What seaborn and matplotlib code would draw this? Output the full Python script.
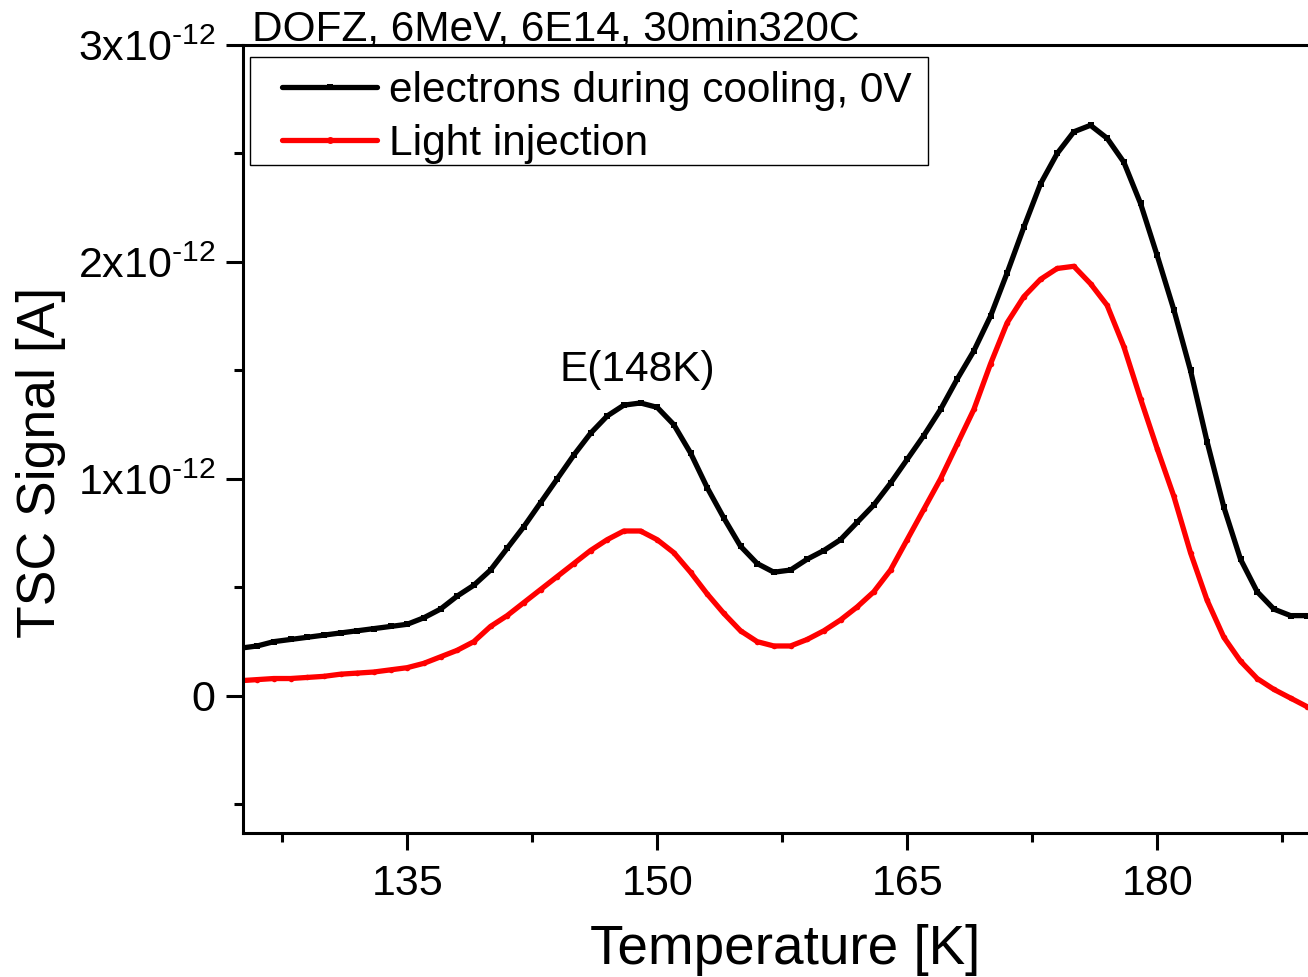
import numpy as np
import pandas as pd
import matplotlib
matplotlib.use("Agg")
import matplotlib.pyplot as plt
import matplotlib.patches as mpatches
import seaborn as sns

# ---- data ----
temperature = list(range(125, 190))
electrons_cooling = [
    0.22, 0.23, 0.25, 0.26, 0.27, 0.28, 0.29, 0.30, 0.31, 0.32,   # 125-134
    0.33, 0.36, 0.40, 0.46, 0.51, 0.58, 0.68, 0.78, 0.89, 1.00,   # 135-144
    1.11, 1.21, 1.29, 1.34, 1.35, 1.33, 1.25, 1.12, 0.96, 0.82,   # 145-154
    0.69, 0.61, 0.57, 0.58, 0.63, 0.67, 0.72, 0.80, 0.88, 0.98,   # 155-164
    1.09, 1.20, 1.32, 1.46, 1.59, 1.75, 1.95, 2.16, 2.36, 2.50,   # 165-174
    2.60, 2.63, 2.57, 2.46, 2.27, 2.03, 1.78, 1.50, 1.17, 0.87,   # 175-184
    0.63, 0.48, 0.40, 0.37, 0.37,                                 # 185-189
]
light_injection = [
    0.07, 0.075, 0.08, 0.08, 0.085, 0.09, 0.10, 0.105, 0.11, 0.12,  # 125-134
    0.13, 0.15, 0.18, 0.21, 0.25, 0.32, 0.37, 0.43, 0.49, 0.55,     # 135-144
    0.61, 0.67, 0.72, 0.76, 0.76, 0.72, 0.66, 0.57, 0.47, 0.38,     # 145-154
    0.30, 0.25, 0.23, 0.23, 0.26, 0.30, 0.35, 0.41, 0.48, 0.58,     # 155-164
    0.72, 0.86, 1.00, 1.16, 1.32, 1.53, 1.72, 1.84, 1.92, 1.97,     # 165-174
    1.98, 1.90, 1.80, 1.61, 1.37, 1.14, 0.92, 0.66, 0.44, 0.27,     # 175-184
    0.16, 0.08, 0.03, -0.01, -0.05,                                 # 185-189
]
scale = 1e-12
series_names = ["electrons during cooling, 0V", "Light injection"]
title_text = "DOFZ, 6MeV, 6E14, 30min320C"
x_ticks = [135, 150, 165, 180]
y_ticks = [0, 1e-12, 2e-12, 3e-12]
y_tick_labels = ["0", "1x10$^{\\text{-12}}$", "2x10$^{\\text{-12}}$", "3x10$^{\\text{-12}}$"]

df = pd.DataFrame({
    "T": temperature * 2,
    "I": [v * scale for v in electrons_cooling] + [v * scale for v in light_injection],
    "series": [series_names[0]] * len(temperature) + [series_names[1]] * len(temperature),
})

sns.set_theme(style="ticks")
plt.rcParams["font.family"] = ["Liberation Sans", "DejaVu Sans"]
plt.rcParams["mathtext.fontset"] = "custom"
plt.rcParams["mathtext.rm"] = "Liberation Sans"
plt.rcParams["mathtext.it"] = "Liberation Sans"
plt.rcParams["text.color"] = "black"
plt.rcParams["axes.labelcolor"] = "black"
plt.rcParams["xtick.color"] = "black"
plt.rcParams["ytick.color"] = "black"

W, H = 1308, 977
AX_L, AX_R, AX_T, AX_B = 243, 1308, 45, 833
fig = plt.figure(figsize=(W / 100, H / 100), dpi=100)
ax = fig.add_axes([AX_L / W, 1 - AX_B / H, (AX_R - AX_L) / W, (AX_B - AX_T) / H])


def ax_coords(px, py):
    return ((px - AX_L) / (AX_R - AX_L), (AX_B - py) / (AX_B - AX_T))


colors = ["black", "#ff0000"]
markers = ["s", "o"]
for name, c, m in zip(series_names, colors, markers):
    sub = df[df["series"] == name]
    sns.lineplot(data=sub, x="T", y="I", ax=ax, color=c, lw=3.8, marker=m,
                 markersize=4, markeredgewidth=0, label=name, clip_on=True)

ax.set_xlim(125.15, 189.05)
ax.set_ylim(-0.632e-12, 3.0e-12)
ax.set_xticks(x_ticks)
ax.set_xticklabels([str(t) for t in x_ticks])
ax.set_xticks([127.5, 142.5, 157.5, 172.5, 187.5], minor=True)
ax.set_yticks(y_ticks)
ax.set_yticklabels(y_tick_labels)
ax.set_yticks([-0.5e-12, 0.5e-12, 1.5e-12, 2.5e-12], minor=True)

ax.tick_params(axis="both", which="major", direction="out", length=12, width=2.2,
               labelsize=31, colors="black")
ax.tick_params(axis="both", which="minor", direction="out", length=6.5, width=2.2,
               colors="black")
ax.tick_params(axis="x", which="major", pad=10)
ax.tick_params(axis="y", which="major", pad=8)

for side in ["left", "bottom", "top"]:
    ax.spines[side].set_linewidth(2.2)
    ax.spines[side].set_color("black")
ax.spines["right"].set_visible(False)

ax.set_xlabel("Temperature [K]", fontsize=39.5)
ax.set_ylabel("TSC Signal [A]", fontsize=38.5)
ax.xaxis.set_label_coords(*ax_coords(785, 964))
ax.xaxis.label.set_va("baseline")
ax.yaxis.set_label_coords(*ax_coords(66, 462))

fig.text(252 / W, 1 - 40 / H, title_text, fontsize=30.5, ha="left", va="baseline",
         color="black")
ax.text(148.8, 1.41e-12, "E(148K)", fontsize=30.5, ha="center", va="bottom", color="black")

# legend frame (drawn as a rectangle) and legend entries
fx0, fy0 = ax_coords(250, 165)
fx1, fy1 = ax_coords(928, 57)
frame = mpatches.Rectangle((fx0, fy0), fx1 - fx0, fy1 - fy0, transform=ax.transAxes,
                           facecolor="white", edgecolor="black", lw=1.0, zorder=4)
ax.add_patch(frame)
lx, ly = ax_coords(282, 71)
leg = ax.legend(loc="upper left", bbox_to_anchor=(lx, ly),
                fontsize=30.5, frameon=False, handlelength=2.25,
                handletextpad=0.28, borderpad=0.0, labelspacing=0.3, borderaxespad=0)
leg.set_zorder(5)
for t in leg.get_texts():
    t.set_color("black")
for h in leg.get_lines():
    h.set_linewidth(3.8)
    h.set_markersize(5)

fig.savefig("out.png", dpi=100)
